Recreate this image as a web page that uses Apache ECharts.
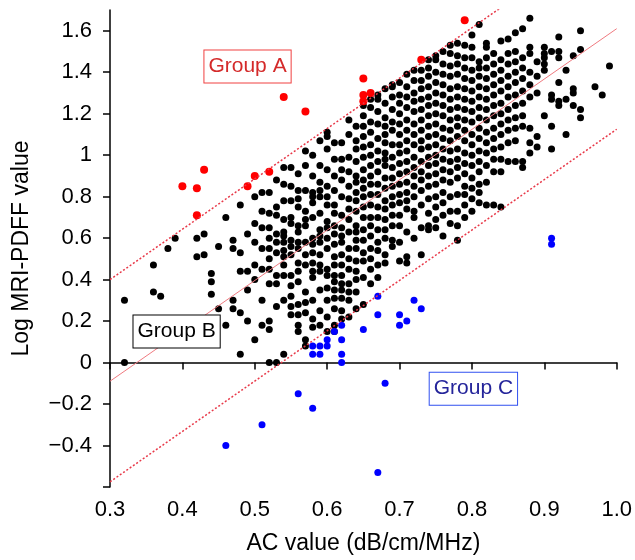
<!DOCTYPE html>
<html>
<head>
<meta charset="utf-8">
<script src="https://cdn.jsdelivr.net/npm/echarts@6/dist/echarts.min.js"></script>
<style>
    html, body { margin: 0; padding: 0; background: #fff; }
    #chart { width: 635px; height: 560px; }
</style>
</head>
<body>
<div id="chart"></div>
<script>
    // Group A: above the upper limit (red)
    var groupA = [
        [0.40, 0.85], [0.42, 0.84], [0.43, 0.93], [0.42, 0.71], [0.49, 0.85],
        [0.50, 0.90], [0.52, 0.92], [0.54, 1.28], [0.57, 1.21], [0.65, 1.37],
        [0.65, 1.29], [0.66, 1.30], [0.65, 1.26], [0.73, 1.46], [0.79, 1.65]
    ];
    // Group C: below the lower limit (blue)
    var groupC = [
        [0.46, -0.40], [0.51, -0.30], [0.56, -0.15], [0.58, -0.22], [0.58, 0.08],
        [0.59, 0.08], [0.60, 0.08], [0.58, 0.04], [0.59, 0.04], [0.60, 0.11],
        [0.61, 0.15], [0.62, 0.18], [0.62, 0.11], [0.62, 0.04], [0.62, 0.00],
        [0.65, 0.16], [0.67, 0.32], [0.67, 0.23], [0.68, -0.10], [0.67, -0.53],
        [0.70, 0.23], [0.70, 0.18], [0.71, 0.20], [0.72, 0.30], [0.73, 0.26],
        [0.91, 0.60], [0.91, 0.57]
    ];
    // Group B: inside the band (black), one row per AC value
    var groupBColumns = [
        [0.32, [0.30, 0.00]],
        [0.36, [0.47, 0.34]],
        [0.37, [0.32]],
        [0.38, [0.55]],
        [0.39, [0.60]],
        [0.42, [0.60, 0.51]],
        [0.43, [0.62, 0.52]],
        [0.44, [0.43, 0.39, 0.33]],
        [0.45, [0.56, 0.26]],
        [0.46, [0.70, 0.18]],
        [0.47, [0.59, 0.55, 0.30, 0.26]],
        [0.48, [0.76, 0.53, 0.44, 0.24, 0.04]],
        [0.49, [0.62, 0.44, 0.35, 0.20]],
        [0.50, [0.80, 0.67, 0.58, 0.47, 0.40, 0.11]],
        [0.51, [0.82, 0.73, 0.65, 0.55, 0.45, 0.30, 0.18]],
        [0.52, [0.82, 0.72, 0.65, 0.60, 0.55, 0.50, 0.45, 0.38, 0.20, 0.16, 0.00]],
        [0.53, [0.88, 0.75, 0.71, 0.62, 0.58, 0.53, 0.42, 0.38, 0.27, 0.00]],
        [0.54, [0.94, 0.86, 0.78, 0.69, 0.63, 0.61, 0.58, 0.54, 0.51, 0.47, 0.42, 0.30, 0.04]],
        [0.55, [0.94, 0.85, 0.78, 0.70, 0.67, 0.59, 0.56, 0.52, 0.42, 0.37, 0.32, 0.27, 0.23]],
        [0.56, [0.91, 0.83, 0.79, 0.75, 0.66, 0.63, 0.58, 0.55, 0.48, 0.44, 0.39, 0.28, 0.23, 0.18, 0.15]],
        [0.57, [1.02, 0.95, 0.83, 0.73, 0.69, 0.66, 0.58, 0.52, 0.47, 0.34, 0.29, 0.24, 0.11, 0.08]],
        [0.58, [1.00, 0.90, 0.82, 0.80, 0.77, 0.70, 0.60, 0.57, 0.53, 0.48, 0.44, 0.41, 0.30, 0.21, 0.17]],
        [0.59, [1.07, 0.95, 0.87, 0.83, 0.80, 0.72, 0.64, 0.61, 0.58, 0.52, 0.47, 0.44, 0.35, 0.25, 0.18]],
        [0.60, [1.11, 1.09, 1.03, 0.93, 0.85, 0.80, 0.76, 0.68, 0.65, 0.60, 0.55, 0.45, 0.42, 0.36, 0.30, 0.22, 0.15]],
        [0.61, [1.06, 0.98, 0.90, 0.83, 0.76, 0.72, 0.66, 0.62, 0.57, 0.51, 0.47, 0.42, 0.39, 0.35, 0.31, 0.26, 0.18, 0.15]],
        [0.62, [1.06, 0.98, 0.93, 0.88, 0.80, 0.71, 0.65, 0.61, 0.58, 0.52, 0.47, 0.42, 0.38, 0.35, 0.31, 0.25, 0.21]],
        [0.63, [1.17, 1.10, 0.99, 0.92, 0.85, 0.79, 0.74, 0.69, 0.63, 0.55, 0.50, 0.45, 0.38, 0.34, 0.30, 0.22]],
        [0.64, [1.14, 1.07, 1.03, 0.97, 0.90, 0.87, 0.82, 0.78, 0.73, 0.66, 0.63, 0.59, 0.55, 0.49, 0.44, 0.40, 0.34, 0.26]],
        [0.65, [1.24, 1.19, 1.14, 1.09, 1.04, 0.99, 0.93, 0.88, 0.84, 0.80, 0.75, 0.70, 0.64, 0.59, 0.53, 0.49, 0.41, 0.28]],
        [0.66, [1.27, 1.23, 1.16, 1.11, 1.05, 1.00, 0.95, 0.90, 0.86, 0.81, 0.76, 0.70, 0.66, 0.61, 0.55, 0.50, 0.45, 0.38]],
        [0.67, [1.29, 1.27, 1.21, 1.15, 1.08, 1.02, 0.97, 0.92, 0.86, 0.81, 0.75, 0.70, 0.64, 0.58, 0.54, 0.47, 0.41]],
        [0.68, [1.32, 1.25, 1.18, 1.14, 1.10, 1.06, 1.01, 0.98, 0.95, 0.89, 0.84, 0.78, 0.74, 0.69, 0.64, 0.60, 0.52, 0.48]],
        [0.69, [1.34, 1.33, 1.28, 1.22, 1.16, 1.12, 1.05, 0.99, 0.94, 0.89, 0.85, 0.80, 0.76, 0.71, 0.66, 0.59, 0.56]],
        [0.70, [1.35, 1.29, 1.25, 1.20, 1.15, 1.10, 1.05, 1.01, 0.96, 0.91, 0.86, 0.81, 0.77, 0.71, 0.66, 0.58, 0.49]],
        [0.71, [1.39, 1.33, 1.28, 1.23, 1.17, 1.12, 1.07, 1.02, 0.97, 0.92, 0.87, 0.82, 0.78, 0.74, 0.63, 0.51, 0.48]],
        [0.72, [1.41, 1.36, 1.30, 1.26, 1.21, 1.15, 1.10, 1.05, 0.99, 0.94, 0.90, 0.85, 0.80, 0.73, 0.70, 0.60]],
        [0.73, [1.41, 1.36, 1.32, 1.27, 1.22, 1.17, 1.12, 1.07, 1.03, 0.97, 0.92, 0.88, 0.83, 0.76, 0.65, 0.52]],
        [0.74, [1.46, 1.42, 1.38, 1.33, 1.28, 1.24, 1.19, 1.14, 1.09, 1.04, 0.99, 0.95, 0.90, 0.85, 0.79, 0.72, 0.66, 0.64]],
        [0.75, [1.48, 1.46, 1.40, 1.35, 1.30, 1.25, 1.20, 1.15, 1.10, 1.05, 1.00, 0.96, 0.91, 0.86, 0.80, 0.75, 0.69, 0.65]],
        [0.76, [1.50, 1.44, 1.39, 1.34, 1.29, 1.24, 1.19, 1.13, 1.08, 1.03, 0.98, 0.93, 0.88, 0.82, 0.77, 0.71, 0.61]],
        [0.77, [1.53, 1.49, 1.43, 1.38, 1.32, 1.27, 1.22, 1.17, 1.12, 1.07, 1.02, 0.97, 0.92, 0.87, 0.80, 0.73, 0.67]],
        [0.78, [1.54, 1.48, 1.44, 1.39, 1.33, 1.28, 1.23, 1.18, 1.14, 1.09, 1.03, 0.98, 0.94, 0.89, 0.81, 0.73, 0.66, 0.59]],
        [0.79, [1.53, 1.47, 1.42, 1.37, 1.32, 1.27, 1.22, 1.17, 1.12, 1.07, 1.01, 0.96, 0.91, 0.85, 0.81, 0.76, 0.70]],
        [0.80, [1.58, 1.52, 1.47, 1.41, 1.36, 1.31, 1.26, 1.21, 1.16, 1.10, 1.05, 1.00, 0.95, 0.89, 0.84, 0.79, 0.73]],
        [0.81, [1.63, 1.45, 1.42, 1.38, 1.33, 1.28, 1.23, 1.18, 1.13, 1.08, 1.02, 0.97, 0.92, 0.86, 0.82, 0.77]],
        [0.82, [1.54, 1.52, 1.47, 1.42, 1.37, 1.32, 1.27, 1.22, 1.17, 1.11, 1.06, 1.01, 0.95, 0.87, 0.76]],
        [0.83, [1.49, 1.44, 1.39, 1.34, 1.29, 1.24, 1.19, 1.13, 1.08, 1.03, 0.98, 0.92, 0.76]],
        [0.84, [1.55, 1.46, 1.41, 1.36, 1.31, 1.25, 1.20, 1.15, 1.10, 1.04, 0.98, 0.92, 0.75]],
        [0.85, [1.56, 1.49, 1.44, 1.38, 1.33, 1.28, 1.22, 1.17, 1.12, 1.06, 0.97]],
        [0.86, [1.59, 1.50, 1.45, 1.40, 1.35, 1.29, 1.24, 1.18, 1.13, 1.07, 0.97]],
        [0.87, [1.61, 1.47, 1.42, 1.37, 1.31, 1.25, 1.19, 1.14, 0.97, 0.94]],
        [0.88, [1.66, 1.52, 1.49, 1.40, 1.34, 1.28, 1.13, 1.06, 1.01]],
        [0.89, [1.45, 1.38, 1.30, 1.09, 1.04]],
        [0.90, [1.52, 1.49, 1.47, 1.44, 1.41, 1.19]],
        [0.91, [1.50, 1.29, 1.27, 1.14, 1.03]],
        [0.92, [1.57, 1.50, 1.47, 1.35, 1.26, 1.24]],
        [0.93, [1.41, 1.27, 1.10]],
        [0.94, [1.48, 1.32, 1.30, 1.24]],
        [0.95, [1.60, 1.51, 1.22, 1.18]],
        [0.97, [1.33]],
        [0.98, [1.29]],
        [0.99, [1.43]]
    ];
    // regression line and the two limits (end points)
    var fitLine = [[0.3, -0.09], [1.0, 1.61]];
    var upperLine = [[0.3, 0.40], [1.0, 2.10]];
    var lowerLine = [[0.3, -0.575], [1.0, 1.125]];
    // axis ticks
    var xLabels = [0.3, 0.4, 0.5, 0.6, 0.7, 0.8, 0.9, 1.0];
    var yTicks = [-0.6, -0.4, -0.2, 0, 0.2, 0.4, 0.6, 0.8, 1.0, 1.2, 1.4, 1.6];
    var yLabels = [-0.4, -0.2, 0, 0.2, 0.4, 0.6, 0.8, 1.0, 1.2, 1.4, 1.6];

    var groupB = [];
    groupBColumns.forEach(function (col) {
        col[1].forEach(function (y) {
            groupB.push([col[0], y]);
        });
    });

    var font = 'Liberation Sans, Arial, Helvetica, sans-serif';

    // a label box sitting on a data point
    function boxLabel(name, x, y, textColor, borderColor) {
        return {
            type: 'scatter',
            symbolSize: 0,
            silent: true,
            z: 10,
            itemStyle: { opacity: 1 },
            data: [[x, y]],
            label: {
                show: true,
                position: 'inside',
                formatter: name,
                fontFamily: font,
                fontSize: 21,
                color: textColor,
                opacity: 1,
                backgroundColor: '#fff',
                borderColor: borderColor,
                borderWidth: 1,
                padding: [6, 4, 5, 4]
            }
        };
    }

    var myChart = echarts.init(document.getElementById('chart'));
    var option = {
        animation: false,
        backgroundColor: '#fff',
        grid: { left: 110, right: 15, top: 10, bottom: 73 },
        xAxis: {
            type: 'value',
            min: 0.3,
            max: 1.0,
            interval: 0.1,
            name: 'AC value (dB/cm/MHz)',
            nameLocation: 'middle',
            nameGap: 45,
            nameTextStyle: { fontFamily: font, fontSize: 23, color: '#000' },
            axisLine: { lineStyle: { color: '#000', width: 1.5 } },
            axisTick: { length: 7, customValues: xLabels, lineStyle: { color: '#000', width: 1.5 } },
            axisLabel: {
                customValues: xLabels,
                margin: 12,
                fontFamily: font,
                fontSize: 22,
                color: '#000',
                formatter: function (v) { return v.toFixed(1); }
            },
            splitLine: { show: false }
        },
        yAxis: {
            type: 'value',
            min: -0.6,
            max: 1.7,
            interval: 0.2,
            name: 'Log MRI-PDFF value',
            nameLocation: 'middle',
            nameGap: 77,
            nameTextStyle: { fontFamily: font, fontSize: 23, color: '#000' },
            axisLine: { lineStyle: { color: '#000', width: 1.5 } },
            axisTick: { length: 7, customValues: yTicks, lineStyle: { color: '#000', width: 1.5 } },
            axisLabel: {
                customValues: yLabels,
                margin: 18,
                fontFamily: font,
                fontSize: 22,
                color: '#000',
                formatter: function (v) {
                    return String(Math.round(v * 10) / 10).replace('-', '\u2212');
                }
            },
            splitLine: { show: false }
        },
        series: [
            {
                name: 'Group B',
                type: 'scatter',
                symbolSize: 7,
                itemStyle: { color: '#000', opacity: 1 },
                data: groupB
            },
            {
                name: 'Group A',
                type: 'scatter',
                symbolSize: 8,
                itemStyle: { color: '#ff0000', opacity: 1 },
                data: groupA
            },
            {
                name: 'Group C',
                type: 'scatter',
                symbolSize: 7,
                itemStyle: { color: '#0000ff', opacity: 1 },
                data: groupC
            },
            {
                type: 'line',
                data: fitLine,
                symbol: 'none',
                clip: true,
                lineStyle: { color: '#f07a80', width: 1 }
            },
            {
                type: 'line',
                data: upperLine,
                symbol: 'none',
                clip: true,
                lineStyle: { color: '#e83848', width: 1.5, type: [2, 2] }
            },
            {
                type: 'line',
                data: lowerLine,
                symbol: 'none',
                clip: true,
                lineStyle: { color: '#e83848', width: 1.5, type: [2, 2] }
            },
            boxLabel('Group A', 0.49, 1.427, '#d42a2a', '#f04040'),
            boxLabel('Group B', 0.392, 0.150, '#000', '#000'),
            boxLabel('Group C', 0.802, -0.126, '#24249a', '#3050f0')
        ]
    };
    myChart.setOption(option);
</script>
</body>
</html>
